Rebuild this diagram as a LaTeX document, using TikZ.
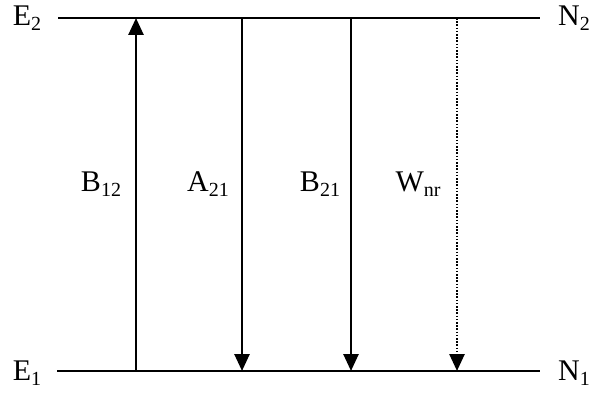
\documentclass[tikz,border=0pt]{standalone}
\usepackage{fontspec}
\setmainfont{Liberation Serif}
\usetikzlibrary{arrows.meta}
\newcommand{\lvl}[2]{#1\raisebox{-5pt}{\fontsize{20}{20}\selectfont #2}}
\begin{document}
\begin{tikzpicture}[x=1pt,y=-1pt,
  txt/.style={inner sep=0pt,font=\fontsize{30}{30}\selectfont},
  level/.style={line width=2.8pt},
  trans/.style={line width=2.6pt,-{Triangle[length=17pt,width=15pt]}},
  nonrad/.style={trans,dash pattern=on 1.6pt off 1.6pt}]
\useasboundingbox (0,0) rectangle (594,393);
% level labels
\node[txt] (E2) at (27,18) {\lvl{E}{2}};
\node[txt] (E1) at (27,373) {\lvl{E}{1}};
\node[txt] (N2) at (574,18) {\lvl{N}{2}};
\node[txt] (N1) at (574,373) {\lvl{N}{1}};
% level lines
\coordinate (t0) at (58,18); \coordinate (t1) at (540,18);
\coordinate (b0) at (57,371); \coordinate (b1) at (540,371);
\draw[level] (t0) -- (t1);
\draw[level] (b0) -- (b1);
% transition end points
\coordinate (u0) at (136,371); \coordinate (u1) at (136,18);
\coordinate (a0) at (242,18); \coordinate (a1) at (242,371);
\coordinate (s0) at (351,18); \coordinate (s1) at (351,371);
\coordinate (w0) at (457,18); \coordinate (w1) at (457,371);
\draw[trans] (u0) -- (u1);
\draw[trans] (a0) -- (a1);
\draw[trans] (s0) -- (s1);
\draw[nonrad] (w0) -- (w1);
% transition labels
\node[txt] (B12) at (101,184) {\lvl{B}{12}};
\node[txt] (A21) at (208,184) {\lvl{A}{21}};
\node[txt] (B21) at (320,184) {\lvl{B}{21}};
\node[txt] (Wnr) at (418,184) {\lvl{W}{nr}};
\end{tikzpicture}
\end{document}
